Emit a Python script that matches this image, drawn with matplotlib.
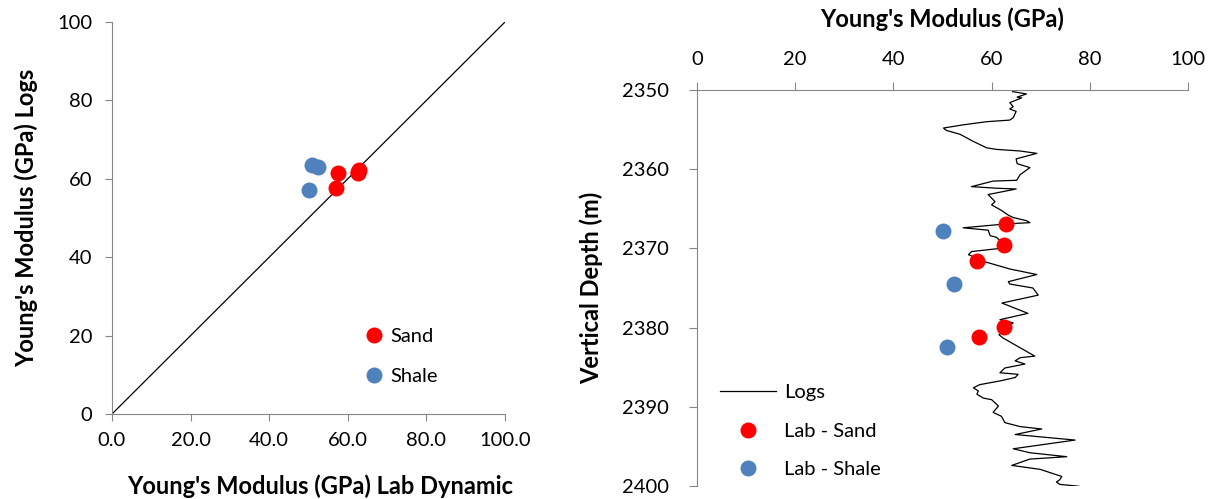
import matplotlib
matplotlib.use("Agg")
import matplotlib.pyplot as plt

plt.rcParams['font.family'] = ['Lato', 'DejaVu Sans']

# Lab dynamic vs log-derived Young's modulus (GPa)
sand_lab = [62.9, 62.5, 57.0, 62.5, 57.4]
sand_log = [62.3, 61.5, 57.7, 61.8, 61.5]
shale_lab = [50.1, 52.3, 50.9]
shale_log = [57.1, 63.0, 63.5]

# Sample depths (m)
sand_depth = [2366.9, 2369.6, 2371.6, 2379.9, 2381.2]
shale_depth = [2367.8, 2374.5, 2382.4]

# Log-derived Young's modulus profile
log_E = [64.3, 67.1, 65.2, 66.1, 63.7, 64.4, 63.7, 65.0, 64.4, 63.7, 59.0, 54.2, 50.2,
         50.8, 53.6, 56.3, 59.0, 61.0, 65.8, 69.2,
         65.0, 65.2, 67.8, 65.8, 65.1, 60.3, 55.9, 61.0, 65.0, 59.3, 60.7, 60.0, 62.0,
         63.4, 64.4, 67.1,
         67.8, 63.1, 54.2, 59.3, 59.7, 61.0, 62.0, 61.7, 55.9, 55.3, 57.0, 58.7, 63.7,
         69.2, 63.4, 63.7, 68.4, 69.5, 62.1, 67.4, 61.7, 64.4, 61.5, 62.3, 65.4,
         68.8, 65.8, 64.8, 66.8, 62.7, 61.7, 65.4, 64.8, 62.0, 57.6, 56.3, 57.3, 57.0,
         58.3, 60.0, 61.4, 60.3, 62.0, 62.7,
         65.8, 70.2, 64.8, 77.0, 64.4, 67.8, 75.3, 67.8, 64.1, 69.9, 74.3, 73.9, 73.2,
         73.9, 77.3, 79.5]
log_depth = [2350.2, 2350.5, 2350.9, 2351.0, 2351.6, 2352.1, 2352.4, 2352.7, 2353.5,
             2353.8, 2354.0, 2354.4, 2354.8, 2355.1, 2355.6, 2356.5, 2357.3, 2357.5,
             2357.7, 2358.0,
             2358.7, 2359.3, 2359.8, 2360.7, 2361.4, 2361.5, 2362.2, 2362.4, 2362.5,
             2363.2, 2364.1, 2364.5, 2365.2, 2365.8, 2366.1, 2366.5,
             2366.75, 2366.9, 2367.4, 2367.7, 2368.4, 2368.6, 2369.2, 2370.0, 2370.4,
             2370.8, 2371.2, 2371.7, 2372.6, 2373.3, 2374.2, 2374.5, 2375.0, 2375.9,
             2376.9, 2378.2, 2379.0, 2379.4, 2380.9, 2381.3, 2382.4,
             2383.6, 2383.8, 2384.2, 2384.6, 2385.1, 2385.7, 2385.9, 2386.3, 2386.7,
             2387.2, 2387.6, 2388.0, 2388.4, 2388.9, 2389.1, 2389.9, 2390.7, 2391.2,
             2392.0,
             2392.5, 2392.8, 2393.5, 2394.2, 2395.3, 2395.8, 2396.3, 2396.6, 2397.4,
             2397.9, 2398.8, 2399.2, 2399.5, 2399.8, 2400.0, 2400.2]

left_ticks = [0, 20, 40, 60, 80, 100]
left_xticklabels = ["0.0", "20.0", "40.0", "60.0", "80.0", "100.0"]
depth_ticks = [2350, 2360, 2370, 2380, 2390, 2400]

RED = "#FF0000"
BLUE = "#4F81BD"
GREY = "#868686"
MS = 11.5
LABEL_FS = 17
TICK_FS = 14.5

fig = plt.figure(figsize=(12.14, 4.99), dpi=100)

# ---- Cross-plot ----
ax1 = fig.add_axes([112 / 1214, 1 - 414 / 499, 393 / 1214, 392 / 499])
ax1.plot([0, 100], [0, 100], color="black", lw=0.9)
ax1.plot(sand_lab, sand_log, "o", color=RED, ms=MS, mec="none", label="Sand")
ax1.plot(shale_lab, shale_log, "o", color=BLUE, ms=MS, mec="none", label="Shale")
ax1.set_xlim(0, 100)
ax1.set_ylim(0, 100)
ax1.set_xticks(left_ticks)
ax1.set_xticklabels(left_xticklabels)
ax1.set_yticks(left_ticks)
for s in ["top", "right"]:
    ax1.spines[s].set_visible(False)
for s in ["left", "bottom"]:
    ax1.spines[s].set_color(GREY)
ax1.tick_params(colors=GREY, labelcolor="black", labelsize=TICK_FS, length=5, direction="out")
ax1.tick_params(axis="y", pad=9)
ax1.tick_params(axis="x", pad=8)
ax1.set_xlabel("Young's Modulus (GPa) Lab Dynamic", fontsize=LABEL_FS, fontweight="bold", labelpad=18)
ax1.set_ylabel("Young's Modulus (GPa) Logs", fontsize=LABEL_FS, fontweight="bold", labelpad=14)
ax1.xaxis.set_label_coords(0.53, -0.155)
ax1.legend(loc="center left", bbox_to_anchor=(0.62, 0.147), frameon=False, fontsize=TICK_FS,
           handlelength=1.0, handletextpad=0.3, labelspacing=1.1, borderaxespad=0)

# ---- Depth profile ----
ax2 = fig.add_axes([697 / 1214, 1 - 486 / 499, 491 / 1214, 396 / 499])
ax2.plot(log_E, log_depth, color="black", lw=0.9, label="Logs")
ax2.plot(sand_lab, sand_depth, "o", color=RED, ms=MS, mec="none", label="Lab - Sand")
ax2.plot(shale_lab, shale_depth, "o", color=BLUE, ms=MS, mec="none", label="Lab - Shale")
ax2.set_xlim(0, 100)
ax2.set_ylim(2400, 2350)
ax2.set_yticks(depth_ticks)
ax2.xaxis.tick_top()
ax2.xaxis.set_label_position("top")
for s in ["bottom", "right"]:
    ax2.spines[s].set_visible(False)
for s in ["left", "top"]:
    ax2.spines[s].set_color(GREY)
ax2.tick_params(colors=GREY, labelcolor="black", labelsize=TICK_FS, length=6, direction="out")
ax2.tick_params(axis="y", pad=14)
ax2.tick_params(axis="x", pad=10)
ax2.set_xlabel("Young's Modulus (GPa)", fontsize=LABEL_FS, fontweight="bold", labelpad=17)
ax2.set_ylabel("Vertical Depth (m)", fontsize=LABEL_FS, fontweight="bold", labelpad=14)
ax2.legend(loc="lower left", bbox_to_anchor=(0.03, 0.0), frameon=False, fontsize=TICK_FS,
           handlelength=2.8, handletextpad=0.4, labelspacing=1.05, borderaxespad=0)

fig.savefig("out.png", dpi=100)
